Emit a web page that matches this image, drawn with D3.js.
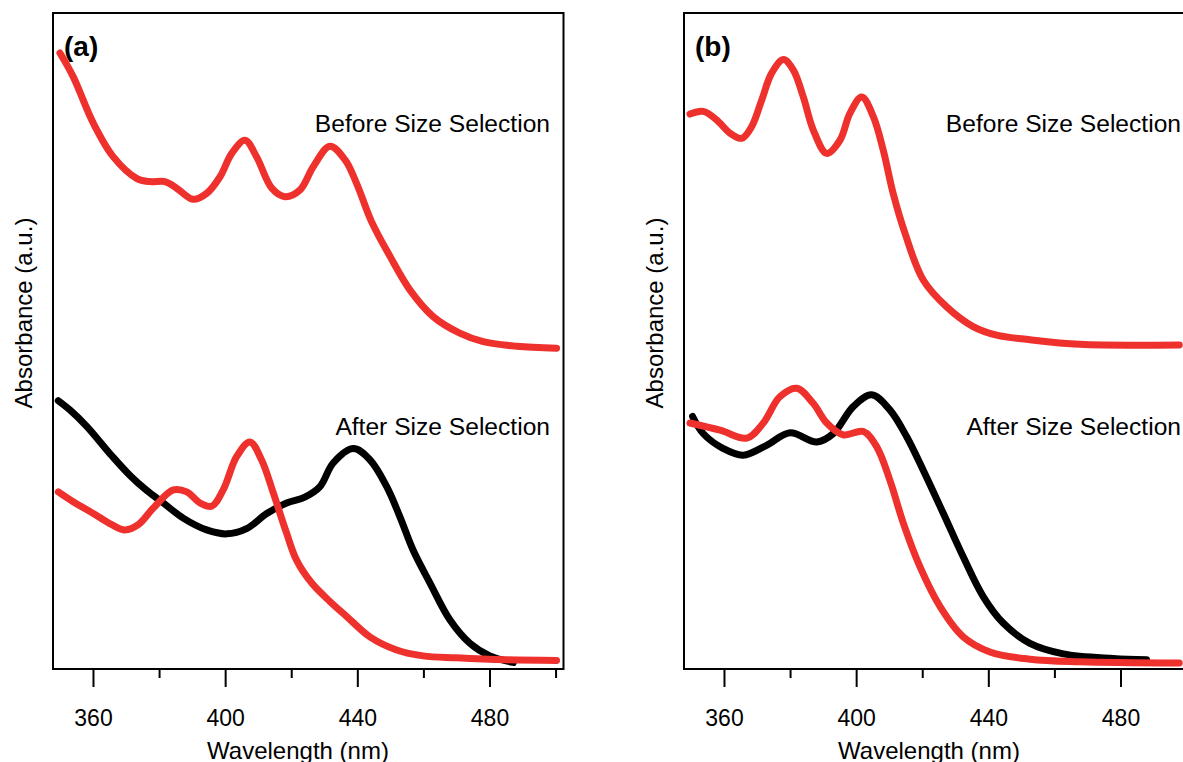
<!DOCTYPE html>
<html>
<head>
<meta charset="utf-8">
<script src="https://cdn.jsdelivr.net/npm/d3@7/dist/d3.min.js"></script>
<style>
  body { margin: 0; background: #fff; }
  svg { display: block; font-family: "Liberation Sans", Arial, Helvetica, sans-serif; }
</style>
</head>
<body>
<div class="container"></div>
<script>
// absorbance spectra, [wavelength nm, absorbance a.u.]
var aBefore = [[350.0,0.939],[354.0,0.903],[360.1,0.832],[366.1,0.781],[373.2,0.748],[377.2,0.743],[381.8,0.743],
  [385.3,0.733],[390.3,0.716],[394.4,0.725],[398.4,0.750],[402.0,0.786],[406.0,0.806],[409.5,0.781],[414.1,0.733],
  [418.1,0.720],[422.6,0.730],[426.7,0.766],[431.7,0.797],[436.3,0.776],[439.8,0.740],[444.3,0.682],[449.9,0.629],
  [455.9,0.578],[463.0,0.537],[471.0,0.512],[478.1,0.499],[488.2,0.492],[500.3,0.489]];

var aAfterBlack = [[349.5,0.409],[353.0,0.395],[358.1,0.370],[365.7,0.325],[371.2,0.295],[376.3,0.272],[381.3,0.253],
  [387.3,0.230],[394.4,0.212],[400.5,0.206],[406.5,0.214],[412.6,0.237],[418.6,0.253],[424.1,0.262],[428.7,0.278],
  [432.7,0.314],[438.8,0.336],[443.8,0.319],[448.9,0.278],[452.9,0.232],[456.9,0.181],[462.0,0.131],[468.0,0.075],
  [474.1,0.039],[480.1,0.020],[487.2,0.010]];

var aAfterRed = [[349.5,0.270],[354.0,0.255],[360.1,0.237],[365.7,0.220],[369.7,0.212],[373.7,0.220],[378.2,0.245],
  [384.3,0.273],[388.4,0.270],[392.4,0.253],[395.9,0.248],[399.4,0.273],[403.5,0.324],[407.5,0.346],[411.0,0.319],
  [414.6,0.268],[418.6,0.207],[421.6,0.166],[426.2,0.131],[431.7,0.103],[436.8,0.080],[443.8,0.049],[451.9,0.029],
  [459.9,0.020],[470.0,0.017],[485.2,0.014],[500.3,0.013]];

var bBefore = [[349.7,0.846],[353.7,0.850],[357.8,0.837],[361.8,0.817],[365.4,0.809],[368.4,0.827],[371.4,0.867],
  [374.4,0.908],[378.0,0.929],[381.0,0.913],[384.0,0.872],[387.0,0.822],[391.1,0.786],[395.1,0.806],[398.1,0.847],
  [401.7,0.872],[405.2,0.842],[408.2,0.791],[411.2,0.725],[414.8,0.664],[420.3,0.593],[427.4,0.552],[435.4,0.522],
  [442.5,0.509],[452.6,0.502],[467.7,0.495],[497.8,0.494]];

var bAfterBlack = [[350.5,0.385],[353.7,0.359],[359.8,0.336],[365.8,0.326],[372.9,0.341],[380.0,0.360],[388.1,0.346],
  [393.1,0.359],[399.1,0.400],[404.7,0.418],[410.2,0.395],[415.3,0.354],[420.3,0.303],[426.4,0.237],[432.4,0.171],
  [438.5,0.110],[444.5,0.070],[452.6,0.039],[462.7,0.023],[477.8,0.016],[487.9,0.014]];

var bAfterRed = [[349.7,0.375],[358.8,0.364],[366.9,0.352],[371.9,0.375],[376.9,0.415],[382.0,0.428],[387.0,0.405],
  [391.1,0.375],[396.1,0.357],[402.2,0.362],[406.2,0.339],[410.2,0.288],[414.3,0.222],[419.3,0.156],[425.4,0.095],
  [432.4,0.049],[440.5,0.026],[452.6,0.015],[467.7,0.011],[497.8,0.009]];

var majorTicks = [360, 400, 440, 480];
var minorTicks = [380, 420, 460, 500];

var w = 1183, h = 762,
    pw = 510.5, ph = 656,
    mTop = 13;

var red = '#ee312d';

var svg = d3.select('.container').append('svg')
  .attr('width', w)
  .attr('height', h);

var panels = [
  {left: 53, tag: '(a)', before: aBefore, black: aAfterBlack, red: aAfterRed},
  {left: 684, tag: '(b)', before: bBefore, black: bAfterBlack, red: bAfterRed}
];

var x = d3.scaleLinear().domain([347.9, 502.4]).range([0, pw]);
var y = d3.scaleLinear().domain([0, 1]).range([ph, 0]);

var line = d3.line()
  .x(function(d) { return x(d[0]); })
  .y(function(d) { return y(d[1]); })
  .curve(d3.curveCatmullRom.alpha(0.5));

panels.forEach(function(p) {
  var g = svg.append('g').attr('transform', 'translate(' + p.left + ',' + mTop + ')');

  // minor ticks
  g.append('g')
    .attr('transform', 'translate(0,' + ph + ')')
    .call(d3.axisBottom(x).tickValues(minorTicks).tickSize(9).tickSizeOuter(0).tickFormat(''))
    .call(function(a) { a.select('.domain').remove(); })
    .selectAll('line').attr('stroke', '#000').attr('stroke-width', 2);

  // major ticks + labels
  var ax = g.append('g')
    .attr('transform', 'translate(0,' + ph + ')')
    .call(d3.axisBottom(x).tickValues(majorTicks).tickSize(18).tickSizeOuter(0).tickPadding(23).tickFormat(d3.format('d')));
  ax.select('.domain').remove();
  ax.selectAll('line').attr('stroke', '#000').attr('stroke-width', 2);
  ax.selectAll('text')
    .attr('font-family', '"Liberation Sans", Arial, sans-serif')
    .attr('font-size', 23)
    .attr('fill', '#000');

  // curves
  [[p.before, red], [p.black, '#000'], [p.red, red]].forEach(function(s) {
    g.append('path')
      .datum(s[0])
      .attr('d', line)
      .attr('fill', 'none')
      .attr('stroke', s[1])
      .attr('stroke-width', 7)
      .attr('stroke-linejoin', 'round')
      .attr('stroke-linecap', 'round');
  });

  // frame
  g.append('rect')
    .attr('width', pw)
    .attr('height', ph)
    .attr('fill', 'none')
    .attr('stroke', '#000')
    .attr('stroke-width', 2);

  g.append('text')
    .attr('x', 11)
    .attr('y', 43)
    .style('font-size', '28px')
    .style('font-weight', 'bold')
    .text(p.tag);

  g.append('text')
    .attr('x', pw - 13.5)
    .attr('y', 119)
    .attr('text-anchor', 'end')
    .style('font-size', '24.6px')
    .text('Before Size Selection');

  g.append('text')
    .attr('x', pw - 13.5)
    .attr('y', 422)
    .attr('text-anchor', 'end')
    .style('font-size', '24.6px')
    .text('After Size Selection');

  g.append('text')
    .attr('x', 245)
    .attr('y', 746)
    .attr('text-anchor', 'middle')
    .style('font-size', '24px')
    .text('Wavelength (nm)');

  g.append('text')
    .attr('transform', 'rotate(-90)')
    .attr('x', -300)
    .attr('y', -21)
    .attr('text-anchor', 'middle')
    .style('font-size', '24px')
    .text('Absorbance (a.u.)');
});
</script>
</body>
</html>
